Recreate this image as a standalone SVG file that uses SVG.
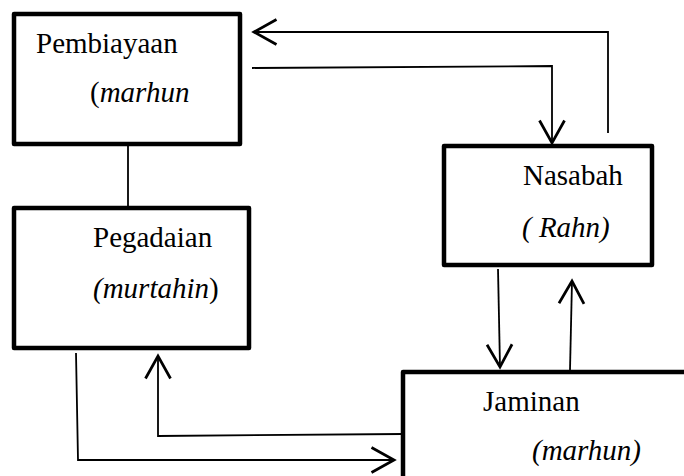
<svg xmlns="http://www.w3.org/2000/svg" width="684" height="476" viewBox="0 0 684 476">
<style>
.box{fill:#fff;stroke:#000;stroke-width:4.5;stroke-linejoin:round}
.ln{fill:none;stroke:#000;stroke-width:1.8}
.t{font-family:"Liberation Serif","Times New Roman","DejaVu Serif",serif;font-size:29px;fill:#000}
.it{font-style:italic}
</style>
<defs>
<marker id="ah" markerUnits="userSpaceOnUse" markerWidth="30" markerHeight="30" viewBox="-20 -12 24 24" refX="0" refY="0" orient="auto">
<path d="M-18,-10 L0,0 L-18,10" fill="none" stroke="#000" stroke-width="2.2"/>
</marker>
</defs>
<g id="connectors">
<polyline class="ln" points="608,133 608,32 254,32" marker-end="url(#ah)"/>
<polyline class="ln" points="252,68 552,66 552,143" marker-end="url(#ah)"/>
<line class="ln" x1="128" y1="144" x2="128" y2="208"/>
<line class="ln" x1="498" y1="269" x2="500" y2="367" marker-end="url(#ah)"/>
<line class="ln" x1="570" y1="370" x2="572" y2="281" marker-end="url(#ah)"/>
<polyline class="ln" points="76,353 78,460 394,460" marker-end="url(#ah)"/>
<polyline class="ln" points="403,434 158,436 158,356" marker-end="url(#ah)"/>
</g>
<g id="pembiayaan">
<rect class="box" x="14" y="14" width="226" height="130"/>
<text class="t" font-family="Liberation Serif, serif" x="36" y="53">Pembiayaan</text>
<text class="t" font-family="Liberation Serif, serif" x="90" y="102">(<tspan class="it">marhun</tspan></text>
</g>
<g id="pegadaian">
<rect class="box" x="14" y="208" width="235" height="140"/>
<text class="t" font-family="Liberation Serif, serif" x="93" y="247">Pegadaian</text>
<text class="t" font-family="Liberation Serif, serif" x="93" y="298"><tspan class="it">(murtahin</tspan>)</text>
</g>
<g id="nasabah">
<rect class="box" x="444" y="146" width="208" height="119"/>
<text class="t" font-family="Liberation Serif, serif" x="523" y="185">Nasabah</text>
<text class="t it" font-family="Liberation Serif, serif" x="522" y="237">( Rahn)</text>
</g>
<g id="jaminan">
<rect class="box" x="403" y="372" width="300" height="120"/>
<text class="t" font-family="Liberation Serif, serif" x="483" y="411">Jaminan</text>
<text class="t it" font-family="Liberation Serif, serif" x="532" y="460">(marhun)</text>
</g>
</svg>
